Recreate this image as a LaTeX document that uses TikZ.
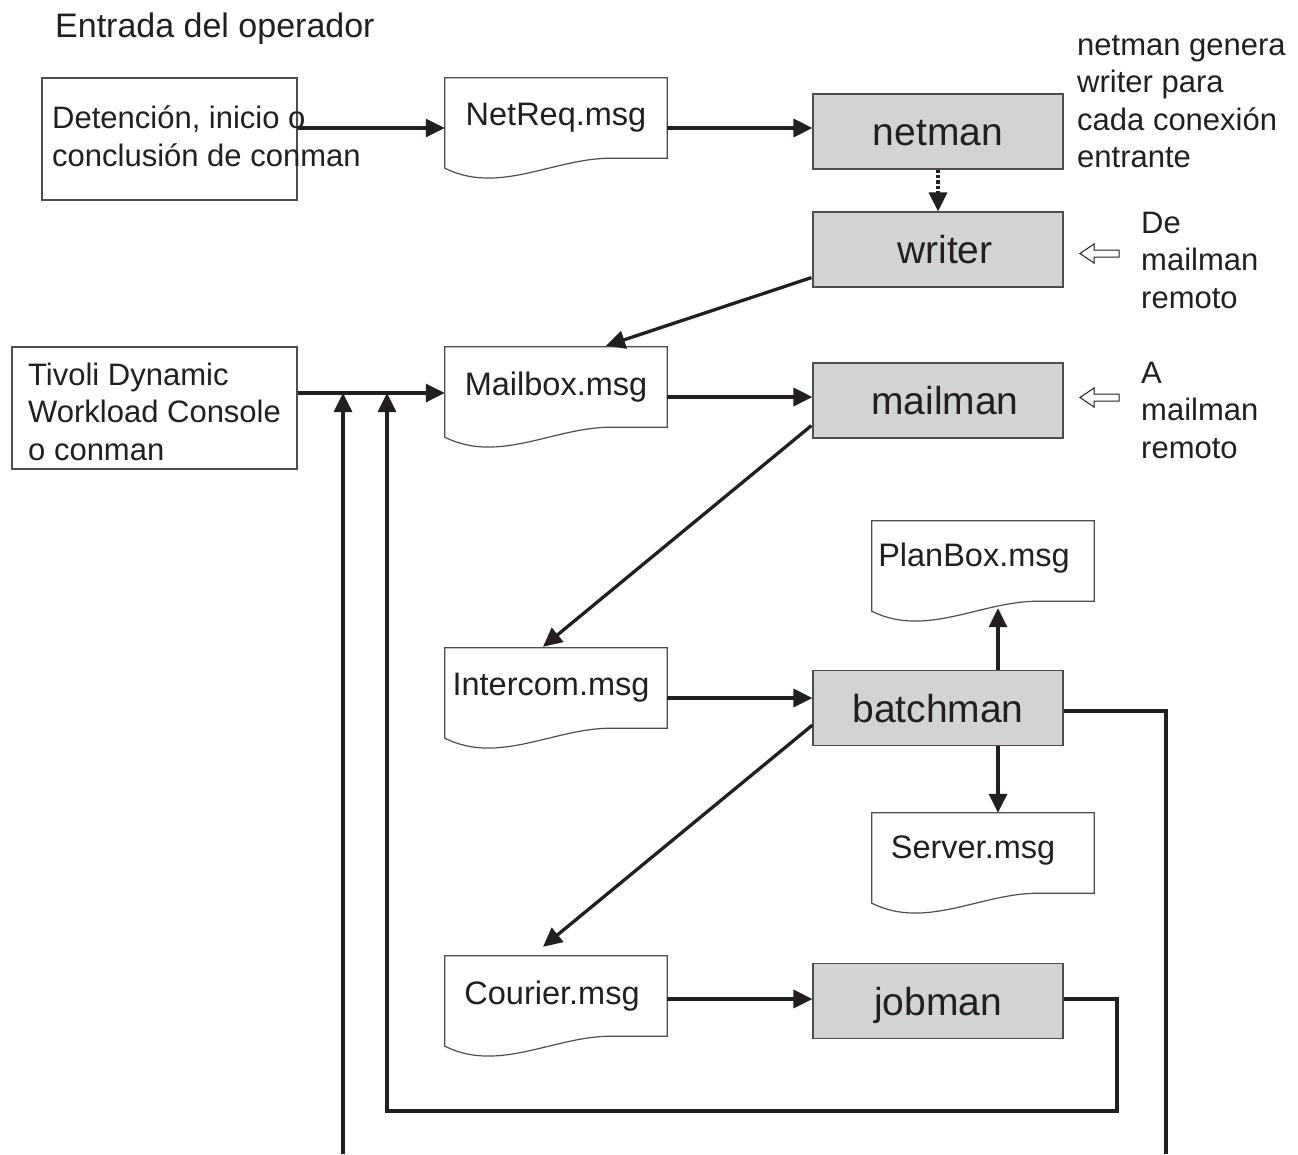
\documentclass[tikz,border=0pt]{standalone}
\usepackage{fontspec}
\setmainfont{Liberation Sans}
\usetikzlibrary{arrows.meta,calc}

\definecolor{ink}{HTML}{231F20}
\definecolor{procfill}{HTML}{D1D3D4}
\definecolor{rim}{HTML}{4D4D4F}

% outline of a message file: a box whose lower edge is a wave
\newcommand\docoutline[1]{%
  \draw[docline] (#1.south east) -- (#1.north east) -- (#1.north west)
    -- ($(#1.south west)+(0,10)$)
    .. controls ($(#1.south west)+(54,37)$) and ($(#1.south west)+(109,0)$) ..
    ($(#1.south west)+(166,0)$) -- cycle;}

\begin{document}
\begin{tikzpicture}[x=1pt,y=-1pt,
  every node/.style={text=ink},
  bodytext/.style={inner sep=0pt, align=left, font=\fontsize{31pt}{37.5pt}\selectfont},
  docnode/.style={minimum width=222pt, minimum height=80pt, inner sep=0pt,
    font=\fontsize{32.5pt}{38pt}\selectfont},
  docline/.style={draw=rim, line width=1.2pt, fill=white},
  procbox/.style={draw=rim, line width=1.2pt, fill=procfill, minimum width=250pt,
    minimum height=75pt, inner sep=0pt, text height=28pt, text depth=0pt,
    font=\fontsize{39pt}{44pt}\selectfont},
  plainbox/.style={draw=rim, line width=1.2pt, fill=white, inner sep=0pt},
  conn/.style={draw=ink, line width=3.3pt, -{Triangle[length=19pt,width=18pt]}},
  bare/.style={draw=ink, line width=3.3pt},
  hollow/.style={draw=ink, line width=1pt, fill=white, line join=miter}
]
\useasboundingbox (0,0) rectangle (1298,1154);

% heading
\node[inner sep=0pt, anchor=base west, font=\fontsize{34pt}{40pt}\selectfont]
  (entrada) at (55,37) {Entrada del operador};

% operator input and console boxes (text anchored on its last baseline)
\node[plainbox, minimum width=255pt, minimum height=122pt] (oper) at (169.5,139) {};
\node[bodytext, anchor=base west] (opertext) at (52,166)
  {Detención, inicio o\\conclusión de conman};
\node[plainbox, minimum width=285pt, minimum height=122pt] (tivoli) at (154.5,408) {};
\node[bodytext, anchor=base west] (tivolitext) at (28,460)
  {Tivoli Dynamic\\Workload Console\\o conman};

% message files
\node[docnode] (netreq)   at (556,118) {};
\node[docnode] (mailbox)  at (556,387) {};
\node[docnode] (intercom) at (556,688) {};
\node[docnode] (courier)  at (556,996) {};
\node[docnode] (planbox)  at (983,561) {};
\node[docnode] (server)   at (983,853) {};
\docoutline{netreq}
\docoutline{mailbox}
\docoutline{intercom}
\docoutline{courier}
\docoutline{planbox}
\docoutline{server}
\node[docnode] at (netreq)   {NetReq.msg};
\node[docnode] at (mailbox)  {Mailbox.msg};
\node[docnode] at ($(intercom)+(-5,0)$) {Intercom.msg};
\node[docnode] at ($(courier)+(-4,0)$)  {Courier.msg};
\node[docnode] at ($(planbox)+(-9,-3)$) {PlanBox.msg};
\node[docnode] at ($(server)+(-10,-2)$) {Server.msg};

% processes
\node[procbox] (netman)   at (938,131.5) {netman};
\node[procbox] (writer)   at (938,249.5) {\hspace*{14pt}writer};
\node[procbox] (mailman)  at (938,400.5) {\hspace*{14pt}mailman};
\node[procbox] (batchman) at (938,708)   {batchman};
\node[procbox] (jobman)   at (938,1001)  {jobman};

% side notes (anchored on their last baselines)
\node[bodytext, anchor=base west] (note) at (1077,167.5)
  {netman genera\\writer para\\cada conexión\\entrante};
\node[bodytext, anchor=base west] (fromremote) at (1141,308)
  {De\\mailman\\remoto};
\node[bodytext, anchor=base west] (toremote) at (1141,458)
  {A\\mailman\\remoto};

% open arrows toward writer and mailman
\draw[hollow] (1080,253.5) -- (1094,244) -- (1094,250) -- (1119,250) -- (1119,257)
  -- (1094,257) -- (1094,263) -- cycle;
\draw[hollow] (1080,397.5) -- (1094,388) -- (1094,394) -- (1119,394) -- (1119,401)
  -- (1094,401) -- (1094,407) -- cycle;

% flow
\draw[conn] ($(oper.east)+(0,-11)$) -- ($(netreq.west)+(0,10)$);
\draw[conn] ($(netreq.east)+(0,10)$) -- ($(netman.west)+(0,-3.5)$);
\draw[conn, dotted] (netman.south) -- (writer.north);
\draw[conn] ($(writer.south west)+(-1,-10)$) -- ($(mailbox.north)+(50,-1)$);
\draw[conn] ($(tivoli.east)+(0,-15)$) -- ($(mailbox.west)+(0,6)$);
\draw[conn] ($(mailbox.east)+(0,10)$) -- ($(mailman.west)+(0,-3.5)$);
\draw[conn] ($(mailman.south west)+(-1,-13)$) -- ($(intercom.north)+(-13,-1)$);
\draw[conn] ($(intercom.east)+(0,10)$) -- ($(batchman.west)+(0,-10)$);
\draw[conn] ($(batchman.north)+(60,0)$) -- ($(planbox.south)+(15,7)$);
\draw[conn] ($(batchman.south)+(60,0)$) -- ($(server.north)+(15,0)$);
\draw[conn] ($(batchman.south west)+(0,-21)$) -- ($(courier.north)+(-13,-9)$);
\draw[conn] ($(courier.east)+(0,3)$) -- ($(jobman.west)+(0,-2)$);

% return paths into the console line
\coordinate (m1) at (343,393);
\coordinate (m2) at (387,393);
\coordinate (lowleft) at (343,1154);
\coordinate (jobturn) at (1117,1111);
\coordinate (lowright) at (1166,1154);
\draw[conn] (lowleft) -- (m1);
\draw[conn] ($(jobman.east)+(0,-2)$) -| (jobturn) -| (m2);
\draw[bare] ($(batchman.east)+(0,3)$) -| (lowright);
\end{tikzpicture}
\end{document}
